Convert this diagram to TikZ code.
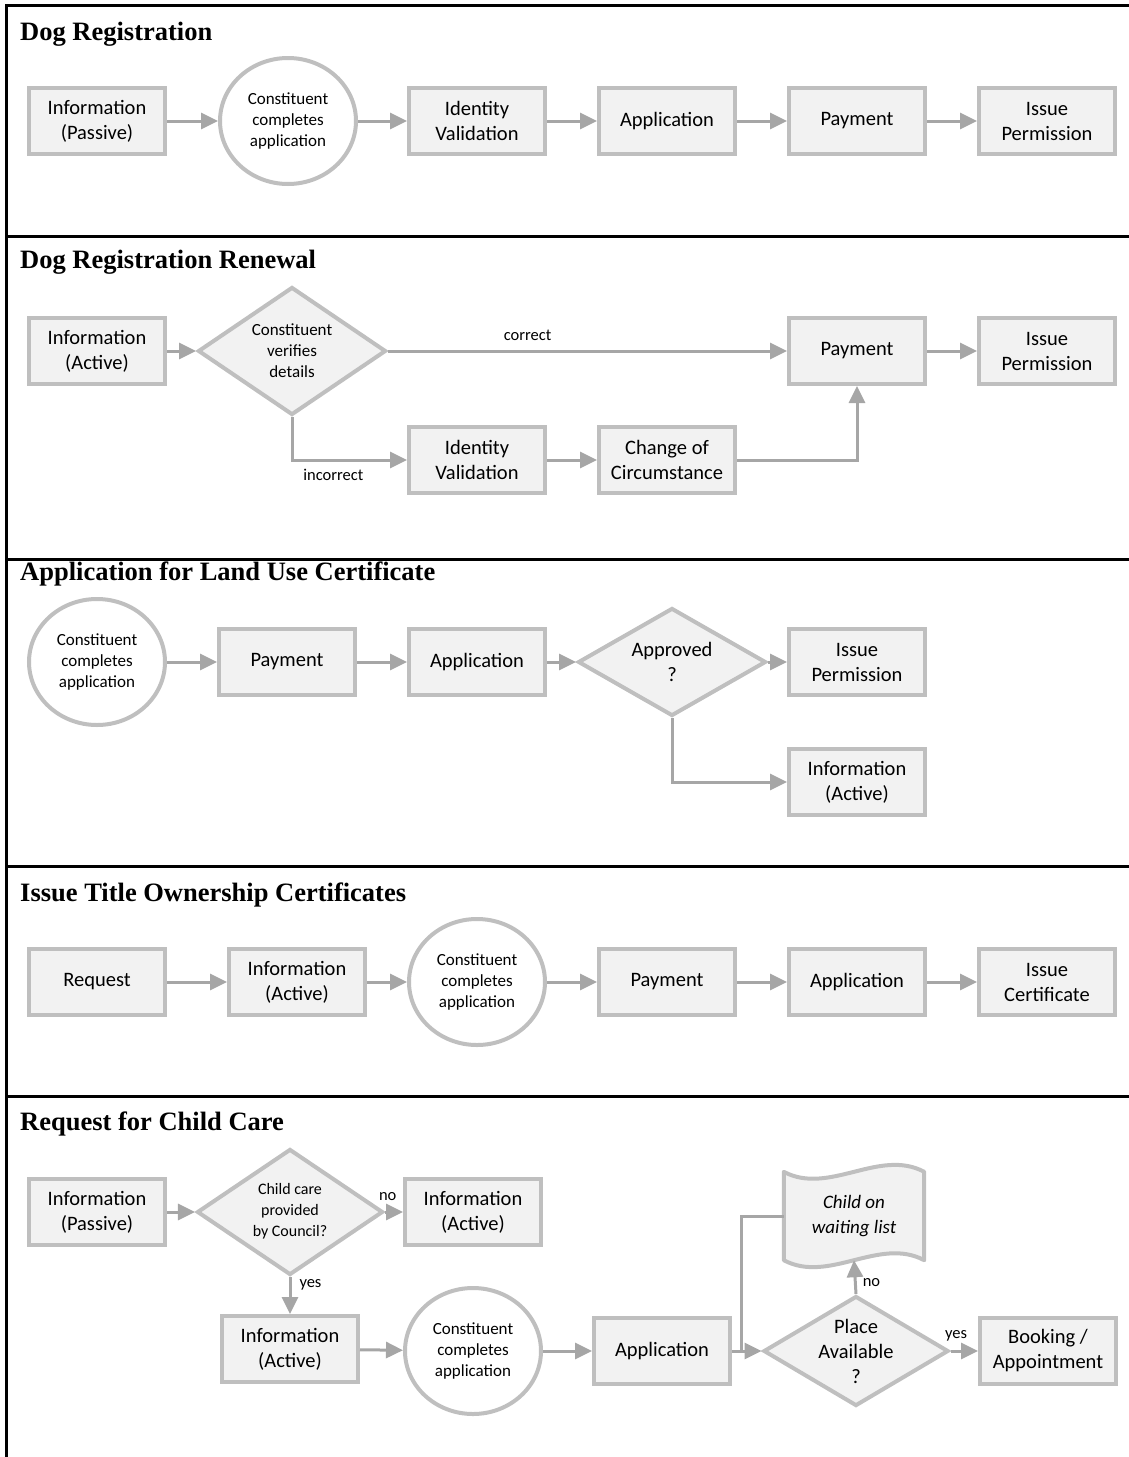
\documentclass[tikz,border=0pt]{standalone}
\usepackage{fontspec}
\setmainfont{Liberation Serif}
\newfontfamily\boxfont{Carlito}
\usetikzlibrary{arrows.meta,shapes.geometric}

\definecolor{edgegray}{HTML}{BFBFBF}
\definecolor{fillgray}{HTML}{F2F2F2}
\definecolor{linegray}{HTML}{A6A6A6}

\tikzset{
  box/.style={draw=edgegray, fill=fillgray, line width=4pt, rectangle,
    minimum width=136pt, minimum height=66pt, inner sep=0pt, align=center,
    font=\boxfont\fontsize{20.5}{25}\selectfont},
  oval/.style={draw=edgegray, fill=white, line width=4pt, ellipse,
    minimum width=136pt, minimum height=126pt, inner sep=0pt, align=center,
    font=\boxfont\fontsize{17}{21}\selectfont},
  dia/.style={draw=edgegray, fill=fillgray, line width=4pt, diamond,
    inner sep=0pt},
  diatext/.style={align=center, inner sep=0pt},
  small/.style={font=\boxfont\fontsize{17}{21}\selectfont},
  big/.style={font=\boxfont\fontsize{20.5}{25}\selectfont},
  conn/.style={draw=linegray, line width=3pt,
    -{Triangle[length=17pt,width=16pt]}},
  plain/.style={draw=linegray, line width=3pt},
  lbl/.style={font=\boxfont\fontsize{16.5}{20}\selectfont, inner sep=0pt},
  title/.style={anchor=base west, inner sep=0pt,
    font=\fontsize{26.5}{30}\selectfont\bfseries},
  rule/.style={line width=3pt, black},
  tapetext/.style={minimum width=140pt, minimum height=88pt, inner sep=0pt,
    align=center, font=\boxfont\itshape\fontsize{19}{25}\selectfont}
}

\begin{document}
\begin{tikzpicture}[x=1pt, y=-1pt]
\useasboundingbox (0,0) rectangle (1129,1457);

% table frame and section dividers
\draw[rule] (6,1457) -- (6,5) -- (1129,5);
\foreach \yy in {236,559,866,1096}
  \draw[rule] (6,\yy) -- (1129,\yy);

% ---------------- Dog Registration ----------------
\node[title] (t1) at (20,40) {Dog Registration};
\node[box] (a1) at (97,121) {Information\\(Passive)};
\node[oval] (a2) at (288,121) {Constituent\\completes\\application};
\node[box] (a3) at (477,121) {Identity\\Validation};
\node[box] (a4) at (667,121) {Application};
\node[box] (a5) at (857,121) {Payment};
\node[box] (a6) at (1047,121) {Issue\\Permission};
\draw[conn] (a1) -- (a2);
\draw[conn] (a2) -- (a3);
\draw[conn] (a3) -- (a4);
\draw[conn] (a4) -- (a5);
\draw[conn] (a5) -- (a6);

% ---------------- Dog Registration Renewal ----------------
\node[title] (t2) at (20,268) {Dog Registration Renewal};
\node[box] (b1) at (97,351) {Information\\(Active)};
\node[dia, minimum width=188pt, minimum height=128pt] (b2) at (292,351) {};
\node[diatext, small] (b2t) at (292,351) {Constituent\\verifies\\details};
\node[box] (b3) at (857,351) {Payment};
\node[box] (b4) at (1047,351) {Issue\\Permission};
\node[box] (b5) at (477,460) {Identity\\Validation};
\node[box] (b6) at (667,460) {Change of\\Circumstance};
\draw[conn] (b1) -- (b2);
\draw[conn] (b2.east) -- node[lbl, pos=0.35, above=9pt] {correct} (b3.west);
\draw[conn] (b3) -- (b4);
\draw[conn] (b2.south) |- node[lbl, pos=0.68, below=8pt] {incorrect} (b5.west);
\draw[conn] (b5) -- (b6);
\draw[conn] (b6.east) -| (b3.south);

% ---------------- Application for Land Use Certificate ----------------
\node[title] (t3) at (20,580) {Application for Land Use Certificate};
\node[oval] (c1) at (97,662) {Constituent\\completes\\application};
\node[box] (c2) at (287,662) {Payment};
\node[box] (c3) at (477,662) {Application};
\node[dia, minimum width=188pt, minimum height=108pt] (c4) at (672,662) {};
\node[diatext, big] (c4t) at (672,662) {Approved\\?};
\node[box] (c5) at (857,662) {Issue\\Permission};
\node[box] (c6) at (857,782) {Information\\(Active)};
\draw[conn] (c1) -- (c2);
\draw[conn] (c2) -- (c3);
\draw[conn] (c3) -- (c4);
\draw[conn] (c4) -- (c5);
\draw[conn] (c4.south) |- (c6.west);

% ---------------- Issue Title Ownership Certificates ----------------
\node[title] (t4) at (20,901) {Issue Title Ownership Certificates};
\node[box] (d1) at (97,982) {Request};
\node[box] (d2) at (297,982) {Information\\(Active)};
\node[oval] (d3) at (477,982) {Constituent\\completes\\application};
\node[box] (d4) at (667,982) {Payment};
\node[box] (d5) at (857,982) {Application};
\node[box] (d6) at (1047,982) {Issue\\Certificate};
\draw[conn] (d1) -- (d2);
\draw[conn] (d2) -- (d3);
\draw[conn] (d3) -- (d4);
\draw[conn] (d4) -- (d5);
\draw[conn] (d5) -- (d6);

% ---------------- Request for Child Care ----------------
\node[title] (t5) at (20,1130) {Request for Child Care};
\node[box] (e1) at (97,1212) {Information\\(Passive)};
\node[dia, minimum width=186pt, minimum height=126pt] (e2) at (290,1212) {};
\node[diatext, font=\boxfont\fontsize{16}{21}\selectfont] (e2t) at (290,1211)
  {Child care\\provided\\by Council?};
\node[box] (e3) at (473,1212) {Information\\(Active)};
\node[box] (e4) at (290,1349) {Information\\(Active)};
\node[oval] (e5) at (473,1351) {Constituent\\completes\\application};
\node[box] (e6) at (662,1351) {Application};
\node[dia, minimum width=185pt, minimum height=110pt] (e7) at (856,1351) {};
\node[diatext, big] (e7t) at (856,1351) {Place\\Available\\?};
\node[box] (e8) at (1048,1351) {Booking /\\Appointment};

% waiting-list tape shape: wavy top and bottom edges
\node[tapetext] (e9) at (854,1216) {};
\fill[fillgray] (e9.north west) .. controls +(45,24) and +(-45,-24) .. (e9.north east)
  -- (e9.south east) .. controls +(-45,-24) and +(45,24) .. (e9.south west) -- cycle;
\draw[edgegray, line width=4pt, line join=round]
  (e9.north west) .. controls +(45,24) and +(-45,-24) .. (e9.north east)
  -- (e9.south east) .. controls +(-45,-24) and +(45,24) .. (e9.south west) -- cycle;
\node[tapetext] (e9t) at (e9) {Child on\\waiting list};

\coordinate (jn) at (741,1351);
\draw[conn] (e1) -- (e2);
\draw[conn] (e2.east) -- node[lbl, pos=0.15, above=10pt] {no} (e3.west);
\draw[conn] (e2.south) -- node[lbl, pos=0.2, right=8pt] {yes} (e4.north);
\draw[conn] (e4) -- (e5);
\draw[conn] (e5) -- (e6);
\draw[conn] (e6.east) -- (e7.west);
\draw[plain] (e9.west) -| (jn);
\draw[conn] (e7.north) -- node[lbl, pos=0.35, right=6pt] {no} (e9.south);
\draw[conn] (e7.east) -- node[lbl, pos=0.2, above=8pt] {yes} (e8.west);
\end{tikzpicture}
\end{document}
